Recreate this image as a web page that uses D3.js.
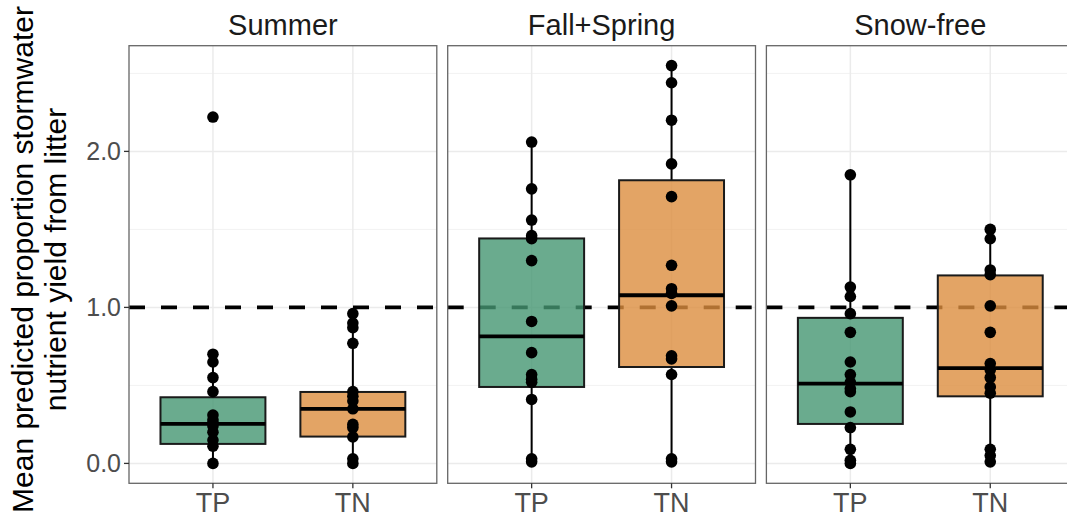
<!DOCTYPE html>
<html><head><meta charset="utf-8">
<script src="https://cdn.jsdelivr.net/npm/d3@7"></script>
<style>
html,body{margin:0;padding:0;background:#fff;}
svg{display:block;font-family:"Liberation Sans",Arial,Helvetica,sans-serif;}
</style></head>
<body><svg id="chart" width="1067" height="519"></svg>
<script>
// ---- data ----
const facets = ["Summer", "Fall+Spring", "Snow-free"];
const nutrients = ["TP", "TN"];
const yTicks = [0, 1, 2];
const yTickLabels = ["0.0", "1.0", "2.0"];
const yMinorTicks = [0.5, 1.5, 2.5];
const refLine = 1.0;

const summerTP = [2.22, 0.70, 0.65, 0.55, 0.46, 0.31, 0.28, 0.26, 0.24, 0.20, 0.15, 0.11, 0.00];
const summerTN = [0.96, 0.90, 0.87, 0.77, 0.46, 0.43, 0.40, 0.35, 0.25, 0.23, 0.17, 0.03, 0.00];
const fallSpringTP = [2.06, 1.76, 1.56, 1.46, 1.44, 1.30, 0.91, 0.71, 0.57, 0.54, 0.52, 0.41, 0.03, 0.01];
const fallSpringTN = [2.55, 2.44, 2.20, 1.92, 1.71, 1.27, 1.12, 1.09, 1.01, 0.69, 0.67, 0.57, 0.03, 0.01];
const snowFreeTP = [1.85, 1.13, 1.07, 0.96, 0.84, 0.65, 0.57, 0.52, 0.48, 0.46, 0.33, 0.23, 0.09, 0.02, 0.00];
const snowFreeTN = [1.50, 1.44, 1.24, 1.21, 1.01, 0.84, 0.64, 0.60, 0.55, 0.49, 0.45, 0.09, 0.05, 0.01];

// box statistics, order: Summer TP, Summer TN, Fall+Spring TP, Fall+Spring TN, Snow-free TP, Snow-free TN
const boxLow    = [0.00, 0.00, 0.01, 0.01, 0.00, 0.01];
const boxQ1     = [0.125, 0.172, 0.490, 0.618, 0.253, 0.430];
const boxMedian = [0.254, 0.349, 0.814, 1.078, 0.511, 0.611];
const boxQ3     = [0.424, 0.458, 1.442, 1.815, 0.933, 1.205];
const boxHigh   = [0.70, 0.96, 2.06, 2.55, 1.85, 1.50];

const pointSets = [[summerTP, summerTN], [fallSpringTP, fallSpringTN], [snowFreeTP, snowFreeTN]];

// ---- layout ----
const svg = d3.select("#chart");
const panelTop = 45.7, panelBottom = 483.3;
const panelLeft0 = 129, panelW = 307.8, panelGap = 10.9;
const fillColors = {TP: "#459672", TN: "#dc8d3f"};

const y = d3.scaleLinear().domain([-0.1275, 2.6775]).range([panelBottom, panelTop]);

facets.forEach((facet, fi) => {
  const left = panelLeft0 + fi * (panelW + panelGap);
  // discrete scale with ggplot expansion of 0.6 units each side
  const xp = d3.scalePoint().domain(nutrients).range([left + panelW * 0.6 / 2.2, left + panelW * 1.6 / 2.2]);
  const unit = panelW / 2.2;
  const g = svg.append("g");

  // minor grid
  g.selectAll(".ymin").data(yMinorTicks).enter().append("line")
    .attr("x1", left).attr("x2", left + panelW)
    .attr("y1", d => y(d)).attr("y2", d => y(d))
    .attr("stroke", "#f2f2f2").attr("stroke-width", 1);
  // major grid
  g.selectAll(".ymaj").data(yTicks).enter().append("line")
    .attr("x1", left).attr("x2", left + panelW)
    .attr("y1", d => y(d)).attr("y2", d => y(d))
    .attr("stroke", "#ebebeb").attr("stroke-width", 1.5);
  g.selectAll(".xmaj").data(nutrients).enter().append("line")
    .attr("x1", d => xp(d)).attr("x2", d => xp(d))
    .attr("y1", panelTop).attr("y2", panelBottom)
    .attr("stroke", "#ebebeb").attr("stroke-width", 1.5);

  // reference dashed line
  g.append("line")
    .attr("x1", left).attr("x2", left + panelW)
    .attr("y1", y(refLine)).attr("y2", y(refLine))
    .attr("stroke", "#000").attr("stroke-width", 3.6)
    .attr("stroke-dasharray", "16,16");

  nutrients.forEach((n, ni) => {
    const bi = fi * 2 + ni;
    const cx = xp(n);
    const hw = unit * 0.75 / 2;
    // whiskers
    g.append("line").attr("x1", cx).attr("x2", cx)
      .attr("y1", y(boxQ3[bi])).attr("y2", y(boxHigh[bi]))
      .attr("stroke", "#000").attr("stroke-width", 2);
    g.append("line").attr("x1", cx).attr("x2", cx)
      .attr("y1", y(boxQ1[bi])).attr("y2", y(boxLow[bi]))
      .attr("stroke", "#000").attr("stroke-width", 2);
    // box
    g.append("rect")
      .attr("x", cx - hw).attr("width", hw * 2)
      .attr("y", y(boxQ3[bi])).attr("height", y(boxQ1[bi]) - y(boxQ3[bi]))
      .attr("fill", fillColors[n]).attr("fill-opacity", 0.8)
      .attr("stroke", "#1a1a1a").attr("stroke-width", 2);
    // median
    g.append("line").attr("x1", cx - hw).attr("x2", cx + hw)
      .attr("y1", y(boxMedian[bi])).attr("y2", y(boxMedian[bi]))
      .attr("stroke", "#000").attr("stroke-width", 3.8);
    // points
    g.selectAll(null).data(pointSets[fi][ni]).enter().append("circle")
      .attr("cx", cx).attr("cy", d => y(d)).attr("r", 5.8).attr("fill", "#000");
  });

  // panel border
  g.append("rect").attr("x", left).attr("y", panelTop)
    .attr("width", panelW).attr("height", panelBottom - panelTop)
    .attr("fill", "none").attr("stroke", "#666").attr("stroke-width", 1.3);

  // x ticks
  g.selectAll(".xt").data(nutrients).enter().append("line")
    .attr("x1", d => xp(d)).attr("x2", d => xp(d))
    .attr("y1", panelBottom).attr("y2", panelBottom + 5)
    .attr("stroke", "#333").attr("stroke-width", 1.3);
  g.selectAll(".xl").data(nutrients).enter().append("text")
    .attr("x", d => xp(d)).attr("y", 512)
    .attr("text-anchor", "middle").attr("font-size", 27).attr("fill", "#4d4d4d")
    .text(d => d);

  // strip text
  g.append("text").attr("x", left + panelW / 2).attr("y", 35)
    .attr("text-anchor", "middle").attr("font-size", 29).attr("fill", "#1a1a1a")
    .text(facet);
});

// y axis ticks and labels
const ya = svg.append("g");
ya.selectAll("line").data(yTicks).enter().append("line")
  .attr("x1", panelLeft0 - 5).attr("x2", panelLeft0)
  .attr("y1", d => y(d)).attr("y2", d => y(d))
  .attr("stroke", "#333").attr("stroke-width", 1.3);
ya.selectAll("text").data(yTicks).enter().append("text")
  .attr("x", panelLeft0 - 8).attr("y", d => y(d)).attr("dy", "0.35em")
  .attr("text-anchor", "end").attr("font-size", 25).attr("fill", "#4d4d4d")
  .text((d, i) => yTickLabels[i]);

// y title
const yt = svg.append("text")
  .attr("transform", `translate(0,${(panelTop + panelBottom) / 2 - 5}) rotate(-90)`)
  .attr("text-anchor", "middle").attr("font-size", 30).attr("fill", "#000");
yt.append("tspan").attr("x", 0).attr("y", 33).text("Mean predicted proportion stormwater");
yt.append("tspan").attr("x", 0).attr("y", 66).text("nutrient yield from litter");
</script></body></html>
